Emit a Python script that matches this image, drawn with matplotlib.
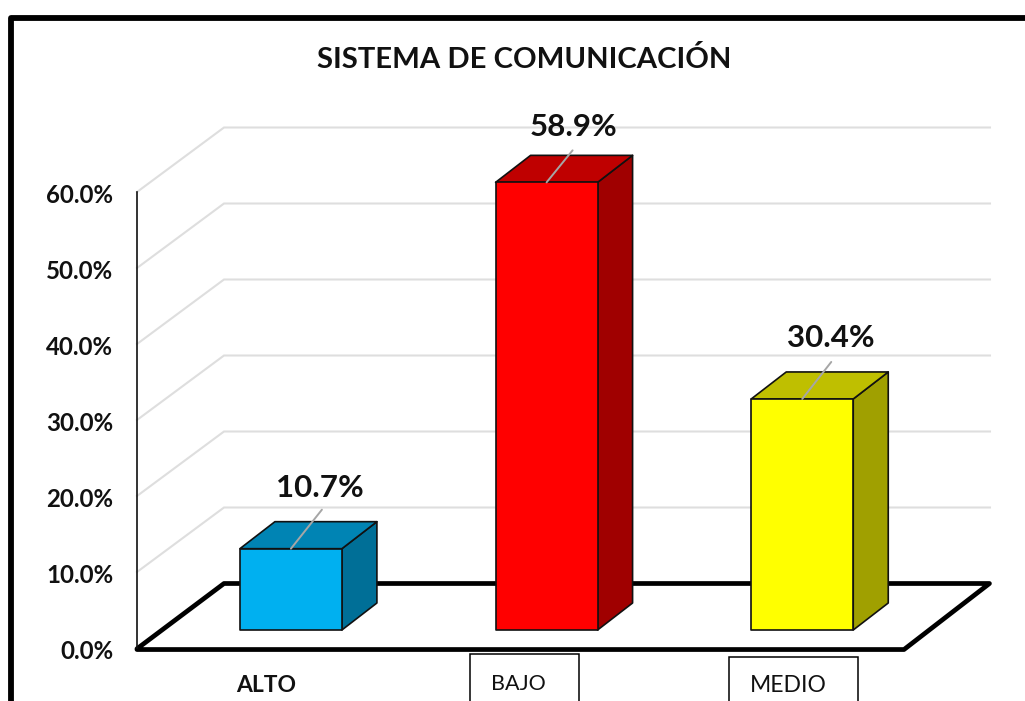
import matplotlib
matplotlib.use("Agg")
import matplotlib.pyplot as plt
from matplotlib.patches import Polygon, Rectangle
from matplotlib.lines import Line2D
from matplotlib.transforms import offset_copy

categories = ["ALTO", "BAJO", "MEDIO"]
values = [10.7, 58.9, 30.4]
front_colors = ["#00B0F0", "#FF0000", "#FFFF00"]
top_colors = ["#0084B4", "#BF0000", "#BFBF00"]
side_colors = ["#006F97", "#A00000", "#A0A000"]
y_ticks = [0, 10, 20, 30, 40, 50, 60]
title = "SISTEMA DE COMUNICACIÓN"

W, H = 1025, 701
plt.rcParams["font.family"] = ["Lato", "DejaVu Sans"]
fig = plt.figure(figsize=(W / 100, H / 100), dpi=100, facecolor="white")

def fx(p): return p / W
def fy(p): return 1 - p / H

# axes: front plane of the chart
L, R, T, B = 137, 904, 192, 648
ax = fig.add_axes([fx(L), fy(B), fx(R - L), fy(T) - fy(B)])
ax.set_xlim(-0.5, 2.5)
ax.set_ylim(0, 60)
ax.patch.set_alpha(0)
for s in ("top", "right", "bottom"):
    ax.spines[s].set_visible(False)
ax.spines["left"].set_linewidth(1.2)
ax.spines["left"].set_color("#111111")
ax.set_xticks([])
ax.set_yticks(y_ticks)
ax.set_yticklabels([f"{v:.1f}%" for v in y_ticks], fontsize=17.3, fontweight="bold", color="#111111")
ax.tick_params(axis="y", length=0, pad=17)
tick_shift = offset_copy(ax.get_yticklabels()[0].get_transform(), fig=fig, x=0, y=-3.5, units="dots")
for lab in ax.get_yticklabels():
    lab.set_verticalalignment("center")
    lab.set_transform(tick_shift)

# depth geometry in data units
FDX, FDY = 87 / 255.67, 64.5 / 7.6   # floor/wall depth
BDX, BDY = 35 / 255.67, 27 / 7.6     # bar depth
XOFF, YBASE = 0.102, 18 / 7.6        # bar placement on floor
BW = 102 / 255.67

# walls' gridlines
for v in y_ticks[1:]:
    ax.plot([-0.5, -0.5 + FDX, 2.5 + FDX - 0.004], [v, v + FDY, v + FDY], color="#DEDEDE",
            lw=1.5, clip_on=False, zorder=1, solid_joinstyle="miter")

# floor
ax.add_patch(Polygon([(-0.5, -0.1), (-0.5 + FDX, FDY), (2.5 + FDX - 0.006, FDY), (2.5, -0.2), (-0.5, -0.2)],
                     closed=True, fc="white", ec="black", lw=3.4, clip_on=False, zorder=2,
                     joinstyle="round"))

# bars
label_offsets = [(29, 61), (27, 55), (29, 61)]
leader_ends = [(31, 39), (26, 32), (29, 37)]
for i, v in enumerate(values):
    x0 = i + XOFF - BW / 2
    x1 = i + XOFF + BW / 2
    y0 = YBASE
    y1 = YBASE + v
    kw = dict(closed=True, ec="#111111", lw=1.2, clip_on=False, zorder=3, joinstyle="round")
    ax.add_patch(Polygon([(x1, y0), (x1 + BDX, y0 + BDY), (x1 + BDX, y1 + BDY), (x1, y1)],
                         fc=side_colors[i], **kw))
    ax.add_patch(Polygon([(x0, y1), (x0 + BDX, y1 + BDY), (x1 + BDX, y1 + BDY), (x1, y1)],
                         fc=top_colors[i], **kw))
    ax.add_patch(Polygon([(x0, y0), (x1, y0), (x1, y1), (x0, y1)], fc=front_colors[i], **kw))
    ox, oy = label_offsets[i]
    ax.annotate(f"{v:.1f}%", xy=((x0 + x1) / 2, y1), xytext=(ox * 0.72, oy * 0.72),
                textcoords="offset points", ha="center", va="center",
                fontsize=22.5, fontweight="bold", color="#111111", zorder=5, annotation_clip=False)
    lx, ly = leader_ends[i]
    ax.annotate("", xy=((x0 + x1) / 2, y1), xytext=(lx * 0.72, ly * 0.72),
                textcoords="offset points", zorder=4, annotation_clip=False,
                arrowprops=dict(arrowstyle="-", color="#A6A6A6", lw=1.4, shrinkA=0, shrinkB=0))

# category labels
fig.text(fx(266.5), fy(685), categories[0], ha="center", va="center", fontsize=16.5,
         fontweight="bold", color="#111111")
fig.text(fx(518.5), fy(684), categories[1], ha="center", va="center", fontsize=15.5, color="#111111")
fig.text(fx(788), fy(686), categories[2], ha="center", va="center", fontsize=16.5, color="#111111")
for (a, b, c) in [(470, 579, 654), (729, 858, 657)]:
    fig.add_artist(Rectangle((fx(a), fy(H + 10)), fx(b - a), fy(c) - fy(H + 10), fill=False,
                             ec="black", lw=1.1, transform=fig.transFigure))

# outer frame (top and left only)
fig.add_artist(Line2D([fx(11), fx(11), fx(W)], [fy(H), fy(18), fy(18)], color="black", lw=4.2,
                      transform=fig.transFigure, solid_joinstyle="round"))

fig.text(fx(524), fy(59), title, ha="center", va="center", fontsize=21.1, fontweight="bold", color="#111111")

fig.savefig("out.png", dpi=100)
